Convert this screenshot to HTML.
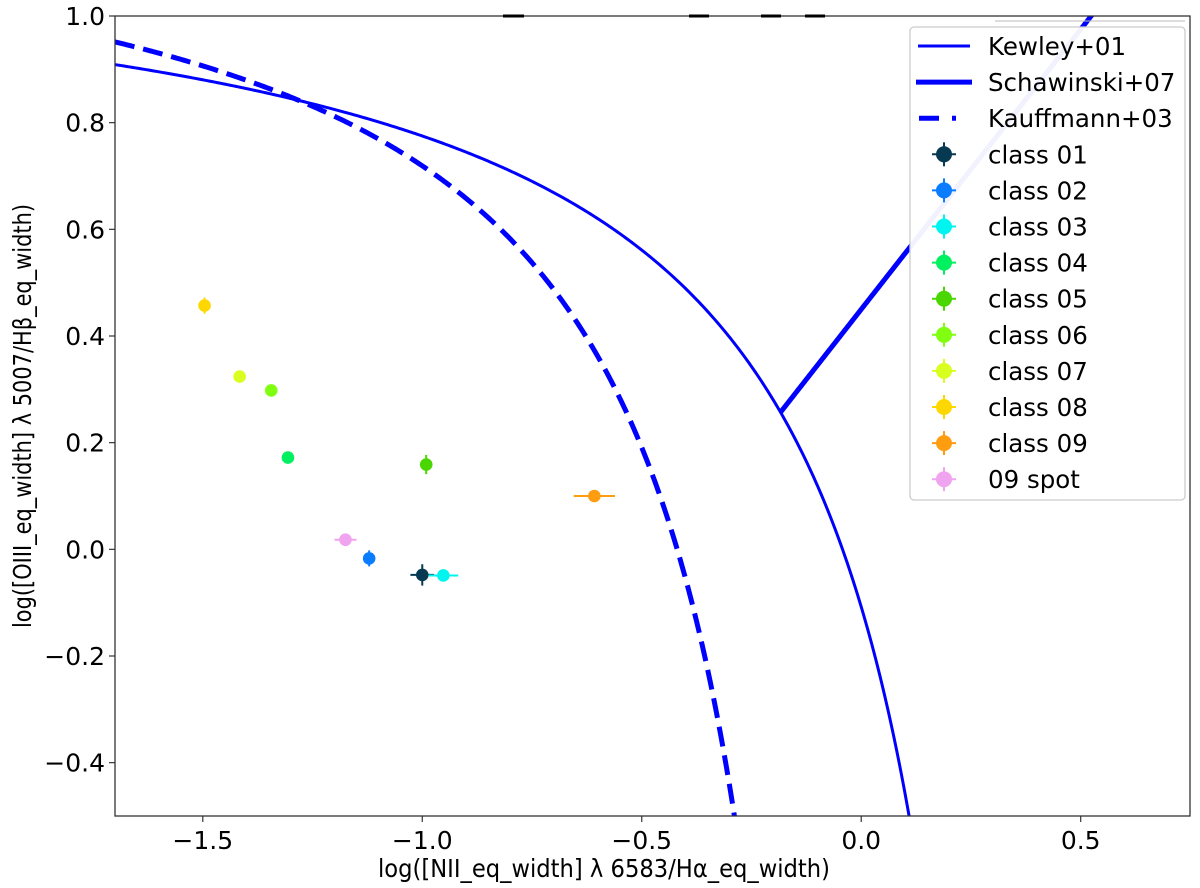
<!DOCTYPE html>
<html><head><meta charset="utf-8"><style>
html,body{margin:0;padding:0;background:#fff;width:1200px;height:888px;overflow:hidden;}
svg{display:block;}
svg text{font-family:"DejaVu Sans","Liberation Sans",sans-serif;fill:#000;}
</style></head><body>
<svg id="chart" width="1200" height="888" xmlns="http://www.w3.org/2000/svg">
<defs><clipPath id="clip"><rect x="115" y="16" width="1075" height="800"/></clipPath></defs>
<rect x="0" y="0" width="1200" height="888" fill="#fff"/>
<g id="curves" clip-path="url(#clip)"></g>
<g id="points"></g>
<rect x="115" y="16" width="1075" height="800" fill="none" stroke="#333" stroke-width="1.3"/>
<g stroke="#000" stroke-width="3">
<line x1="503" y1="16" x2="524" y2="16"/><line x1="689" y1="16" x2="709" y2="16"/><line x1="761" y1="16" x2="781" y2="16"/><line x1="805" y1="16" x2="825" y2="16"/>
</g>
<line x1="995" y1="21" x2="1185" y2="21" stroke="#bbb" stroke-width="1"/>
<g id="xticks"></g>
<g id="yticks"></g>
<text x="604" y="877" text-anchor="middle" font-size="25" textLength="452" lengthAdjust="spacingAndGlyphs">log([NII_eq_width] λ 6583/Hα_eq_width)</text>
<text transform="translate(31,416) rotate(-90)" text-anchor="middle" font-size="25" textLength="424" lengthAdjust="spacingAndGlyphs">log([OIII_eq_width] λ 5007/Hβ_eq_width)</text>
<g id="legend">
<rect x="910" y="27" width="275" height="473" rx="4" fill="#fff" fill-opacity="0.95" stroke="#ccc" stroke-width="1.3"/>
</g>
</svg>
<script>
const xTicks=[-1.5,-1.0,-0.5,0.0,0.5];
const yTicks=[-0.4,-0.2,0.0,0.2,0.4,0.6,0.8,1.0];
const classNames=["class 01","class 02","class 03","class 04","class 05","class 06","class 07","class 08","class 09","09 spot"];
const classColors=["#073a52","#0a7cff","#00f5f0","#00f060","#4ad600","#80ff10","#d8ff20","#ffd700","#ff9d10","#f0a4ef"];
const xVals=[-1.000,-1.121,-0.952,-1.306,-0.991,-1.344,-1.416,-1.496,-0.608,-1.175];
const yVals=[-0.048,-0.017,-0.049,0.172,0.159,0.298,0.324,0.457,0.100,0.018];
const xErr=[0.027,0.005,0.034,0.005,0.005,0.005,0.005,0.005,0.047,0.025];
const yErr=[0.020,0.015,0.005,0.005,0.018,0.005,0.005,0.015,0.010,0.005];
const lineNames=["Kewley+01","Schawinski+07","Kauffmann+03"];

const NS="http://www.w3.org/2000/svg";
const X0=-1.7,X1=0.749,Y0=-0.5,Y1=1.0,L=115,R=1190,T=16,B=816;
function sx(x){return L+(x-X0)/(X1-X0)*(R-L);}
function sy(y){return B-(y-Y0)/(Y1-Y0)*(B-T);}
function mk(tag,attrs,parent){const e=document.createElementNS(NS,tag);for(const k in attrs)e.setAttribute(k,attrs[k]);parent.appendChild(e);return e;}
function fmt(v){return (v<0?"\u2212":"")+Math.abs(v).toFixed(1);}

const xg=document.getElementById('xticks');
xTicks.forEach(v=>{
  const t=mk('line',{x1:sx(v),x2:sx(v),y1:B,y2:B+6,stroke:'#333','stroke-width':1.2},xg);
  
  
  const l=mk('text',{x:sx(v),y:B+33,'text-anchor':'middle','font-size':25},xg);
  
  
  l.textContent=fmt(v);
});
const yg=document.getElementById('yticks');
yTicks.forEach(v=>{
  const t=mk('line',{x1:L-6,x2:L,y1:sy(v),y2:sy(v),stroke:'#333','stroke-width':1.2},yg);
  
  
  const l=mk('text',{x:L-10,y:sy(v)+9,'text-anchor':'end','font-size':25},yg);
  
  
  l.textContent=fmt(v);
});

function kew(x){return 0.61/(x-0.47)+1.19;}
function kau(x){return 0.61/(x-0.05)+1.3;}
function sch(x){return 1.05*x+0.45;}
const cg=document.getElementById('curves');
function curve(f,xa,xb){let d="";const n=400;let started=false;for(let i=0;i<=n;i++){const x=xa+(xb-xa)*i/n;const y=f(x);if(y<-0.56||y>1.06)continue;d+=(started?"L":"M")+sx(x).toFixed(2)+","+sy(y).toFixed(2);started=true;}return d;}
let a=-0.5,b=0.3;for(let i=0;i<60;i++){const m=(a+b)/2;if(sch(m)-kew(m)>0)b=m;else a=m;}
const xi=(a+b)/2;
const k=mk('path',{d:curve(kew,-1.7,0.2),fill:'none',stroke:'#0000ff','stroke-width':3},cg);


const s=mk('path',{d:curve(sch,xi,0.6),fill:'none',stroke:'#0000ff','stroke-width':5},cg);


const ka=mk('path',{d:curve(kau,-1.7,-0.25),fill:'none',stroke:'#0000ff','stroke-width':5,'stroke-dasharray':'20 9'},cg);



const pg=document.getElementById('points');
classNames.forEach((n,i)=>{
  const g=mk('g',{},pg);
  
  
  const c=classColors[i],cx=sx(xVals[i]),cy=sy(yVals[i]);
  mk('line',{x1:sx(xVals[i]-xErr[i]),x2:sx(xVals[i]+xErr[i]),y1:cy,y2:cy,stroke:c,'stroke-width':2},g);
  mk('line',{x1:cx,x2:cx,y1:sy(yVals[i]-yErr[i]),y2:sy(yVals[i]+yErr[i]),stroke:c,'stroke-width':2},g);
  mk('circle',{cx:cx,cy:cy,r:6.3,fill:c},g);
});

const lg=document.getElementById('legend');
const rowY=i=>46+i*36.1;
lineNames.forEach((n,i)=>{
  const y=rowY(i);
  const e=mk('g',{},lg);
  
  
  if(i===0)mk('line',{x1:918,x2:970,y1:y,y2:y,stroke:'#0000ff','stroke-width':3},e);
  if(i===1)mk('line',{x1:916,x2:972,y1:y,y2:y,stroke:'#0000ff','stroke-width':5},e);
  if(i===2)mk('line',{x1:919,x2:969,y1:y,y2:y,stroke:'#0000ff','stroke-width':5,'stroke-dasharray':'20 13 4 100'},e);
  const t=mk('text',{x:988,y:y+9,'font-size':24.5},e);t.textContent=n;
});
classNames.forEach((n,i)=>{
  const y=rowY(i+3),c=classColors[i];
  const e=mk('g',{},lg);
  
  
  mk('line',{x1:932,x2:956,y1:y,y2:y,stroke:c,'stroke-width':2},e);
  mk('line',{x1:944,x2:944,y1:y-12,y2:y+12,stroke:c,'stroke-width':2},e);
  mk('circle',{cx:944,cy:y,r:8,fill:c},e);
  const t=mk('text',{x:988,y:y+9,'font-size':24.5},e);t.textContent=n;
});
</script>
</body></html>
